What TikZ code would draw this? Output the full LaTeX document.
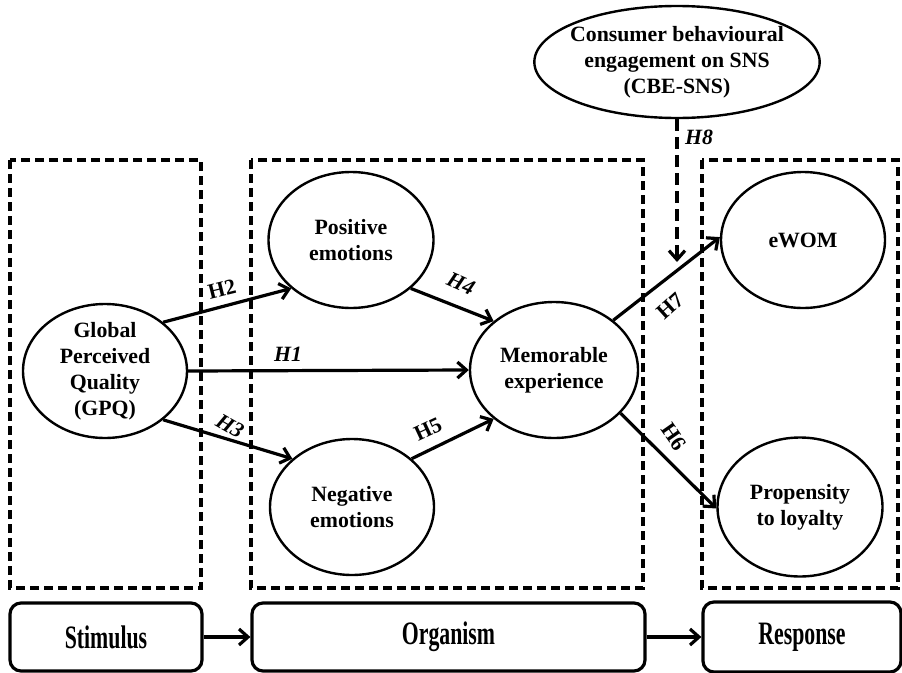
\documentclass[tikz,border=0pt]{standalone}
\usepackage{fontspec}
\setmainfont{Liberation Serif}
\usepackage{tikz}
\usetikzlibrary{shapes,arrows.meta}
\newcommand{\modelfont}{\fontsize{21.8}{26}\selectfont\bfseries}
\tikzset{
  >={Straight Barb[length=9pt,width=16pt]},
  % node options
  construct/.style={ellipse,draw,line width=2.4pt,inner sep=0pt,
    minimum width=165pt,minimum height=136pt,align=center,font=\modelfont},
  moderator/.style={construct,minimum width=284pt,minimum height=112pt,inner xsep=-6pt},
  phase/.style={rectangle,draw,rounded corners=11pt,line width=3.2pt,
    minimum height=68pt,font=\modelfont},
  hyp/.style={font=\modelfont,inner sep=1pt},
  hypIt/.style={hyp,font=\modelfont\itshape},
  % path options
  stage/.style={draw,line width=3.2pt,dash pattern=on 9pt off 5pt},
  hypothesis/.style={->,line width=3.2pt},
  hypothesis mod/.style={hypothesis,dash pattern=on 12pt off 6pt},
}

\begin{document}
\begin{tikzpicture}[x=1pt,y=-1pt]
  \useasboundingbox (0,0) rectangle (902,672);
  % S-O-R frames
  \draw[stage] (10,160) rectangle (201,588);
  \draw[stage] (251,160) rectangle (643,588);
  \draw[stage] (702,160) rectangle (898,588);

  % constructs
  \node[construct,minimum width=164pt,minimum height=134pt,inner ysep=-6pt] (gpq) at (105,371)
    {Global\\Perceived\\Quality\\(GPQ)};
  \node[construct] (positive) at (351,240) {Positive\\emotions};
  \node[construct,minimum width=164pt] (negative) at (352,507) {Negative\\emotions};
  \node[construct,minimum width=168pt] (memorable) at (554,370) {Memorable\\experience};
  \node[construct,minimum width=164pt] (ewom) at (803,240) {eWOM};
  \node[construct,minimum height=139pt] (loyalty) at (800,507) {Propensity\\to loyalty};
  \node[moderator] (cbe) at (677,62) {Consumer behavioural\\engagement on SNS\\(CBE-SNS)};
  \coordinate (cbeTarget) at (677,262);

  % hypotheses
  \draw[hypothesis] (gpq.40) -- (positive.219);
  \draw[hypothesis] (gpq.east) -- (memorable.west);
  \draw[hypothesis] (gpq.-40) -- (negative.141);
  \draw[hypothesis] (positive.-39) -- (memorable.141);
  \draw[hypothesis] (negative.39) -- (memorable.219);
  \draw[hypothesis] (memorable.40) -- (ewom.178);
  \draw[hypothesis] (memorable.-33) -- (loyalty.181);
  \draw[hypothesis mod] (cbe.south) -- (cbeTarget);

  \node[hyp,rotate=14] (h2) at (222,289) {H2};
  \node[hypIt] (h1) at (288,354) {H1};
  \node[hypIt,rotate=-30] (h3) at (230,426) {H3};
  \node[hypIt,rotate=-24] (h4) at (461,284) {H4};
  \node[hyp,rotate=25] (h5) at (428,429) {H5};
  \node[hyp,rotate=42] (h7) at (670,306) {H7};
  \node[hyp,rotate=-55] (h6) at (674,437) {H6};
  \node[hypIt] (h8) at (699,137) {H8};

  % stages
  \node[phase,minimum width=192pt] (stimulus) at (106,637) {\scalebox{1}[1.5]{Stimulus}};
  \node[phase,minimum width=393pt] (organism) at (448.5,637) {\scalebox{1}[1.5]{Organism}};
  \node[phase,minimum width=198pt,minimum height=70pt] (response) at (802,637) {\scalebox{1}[1.5]{Response}};
  \draw[hypothesis] (stimulus) -- (organism);
  \draw[hypothesis] (organism) -- (response);
\end{tikzpicture}
\end{document}
